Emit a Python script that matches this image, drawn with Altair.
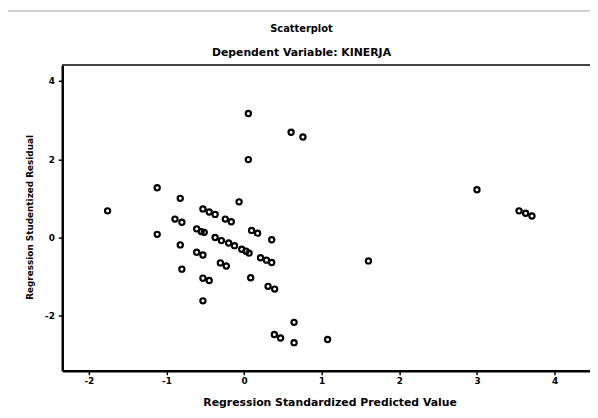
import altair as alt
import pandas as pd

pred = [-1.758, -1.119, -1.119, -0.822, -0.890, -0.801, -0.822, -0.801,
        -0.530, -0.449, -0.373, -0.610, -0.551, -0.513, -0.610, -0.530,
        -0.530, -0.449, -0.530, -0.242, -0.165, -0.064, -0.373, -0.292,
        -0.199, -0.123, -0.030, 0.025, 0.064, -0.305, -0.229, 0.097,
        0.174, 0.356, 0.212, 0.288, 0.356, 0.085, 0.309, 0.394,
        0.055, 0.055, 0.606, 0.758, 0.644, 0.390, 0.470, 0.644,
        1.076, 1.602, 3.000, 3.542, 3.627, 3.708]
resid = [0.68, 1.27, 0.08, 1.00, 0.47, 0.39, -0.19, -0.81,
         0.73, 0.65, 0.59, 0.22, 0.15, 0.13, -0.38, -0.45,
         -1.04, -1.10, -1.62, 0.47, 0.40, 0.91, 0.00, -0.08,
         -0.14, -0.21, -0.30, -0.35, -0.40, -0.65, -0.73, 0.18,
         0.11, -0.06, -0.52, -0.58, -0.64, -1.03, -1.25, -1.32,
         3.17, 1.99, 2.69, 2.57, -2.17, -2.48, -2.57, -2.69,
         -2.61, -0.60, 1.22, 0.68, 0.62, 0.55]
x_ticks = [-2, -1, 0, 1, 2, 3, 4]
y_ticks = [-2, 0, 2, 4]

df = pd.DataFrame({"pred": pred, "resid": resid})

FONT = "DejaVu Sans"
W, H = 535, 310

points = alt.Chart(df).mark_point(
    shape="circle", filled=False, stroke="black", strokeWidth=2.2, size=28, opacity=1
).encode(
    x=alt.X("pred:Q",
            scale=alt.Scale(domain=[-2.342, 4.456], nice=False, zero=False),
            axis=alt.Axis(values=x_ticks, title="Regression Standardized Predicted Value",
                          labelExpr="toString(datum.value)",
                          grid=False, domainColor="black", domainWidth=2.5,
                          tickColor="black", tickWidth=1.5, tickSize=4,
                          labelFont=FONT, labelFontSize=9, labelFontWeight="bold",
                          labelColor="black", labelPadding=2,
                          titleFont=FONT, titleFontSize=11, titleFontWeight="bold",
                          titleColor="black", titleX=271, titleY=32,
                          titleAlign="center", titleBaseline="middle")),
    y=alt.Y("resid:Q",
            scale=alt.Scale(domain=[-3.409, 4.409], nice=False, zero=False),
            axis=alt.Axis(values=y_ticks, title="Regression Studentized Residual",
                          labelExpr="toString(datum.value)",
                          grid=False, domainColor="black", domainWidth=2.5,
                          tickColor="black", tickWidth=1.5, tickSize=4,
                          labelFont=FONT, labelFontSize=9, labelFontWeight="bold",
                          labelColor="black", labelPadding=4,
                          titleFont=FONT, titleFontSize=9, titleFontWeight="bold",
                          titleColor="black", titleX=-33, titleY=154,
                          titleAngle=270, titleAlign="center", titleBaseline="middle")),
)

top_line = alt.Chart(df).mark_rule(color="#444444", strokeWidth=2).encode(
    x=alt.value(0), x2=alt.value(W), y=alt.value(0)
)
page_line = alt.Chart(df).mark_rule(color="#d0d0d0", strokeWidth=1.5).encode(
    x=alt.value(-55), x2=alt.value(W), y=alt.value(-54.5)
)

chart = alt.layer(page_line, top_line, points).properties(
    width=W, height=H,
    autosize=alt.AutoSizeParams(type="none"),
    padding={"left": 55, "top": 55, "right": 0, "bottom": 40},
    title=alt.TitleParams(
        "Scatterplot", subtitle="Dependent Variable: KINERJA",
        anchor="middle", frame="group", dx=-25, offset=-48,
        font=FONT, fontSize=10, fontWeight="bold", color="black",
        subtitleFont=FONT, subtitleFontSize=11, subtitleFontWeight="bold",
        subtitleColor="black", subtitlePadding=13),
).configure_view(stroke=None).configure(background="white")

chart.save("out.html", embed_options={"renderer": "svg", "actions": False})
